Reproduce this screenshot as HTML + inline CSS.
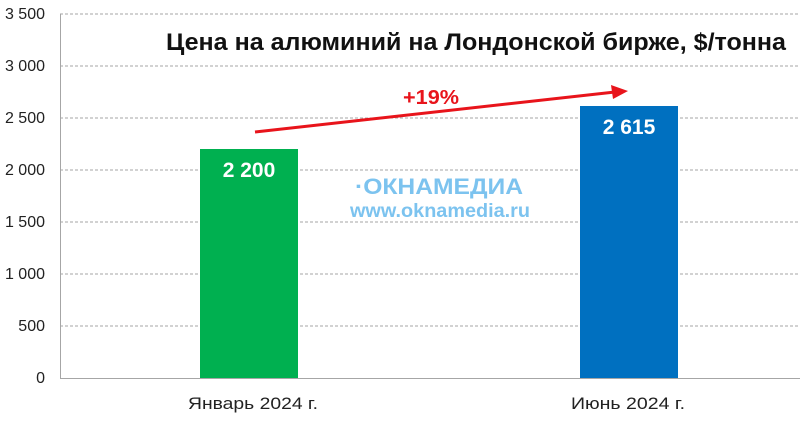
<!DOCTYPE html>
<html><head><meta charset="utf-8"><style>
html,body{margin:0;padding:0;background:#fff;}
svg{display:block;font-family:"Liberation Sans",Arial,sans-serif;}
</style></head><body>
<svg width="800" height="421" viewBox="0 0 800 421" xmlns="http://www.w3.org/2000/svg">
<g stroke="#a6a6a6" stroke-width="1" stroke-dasharray="3,2">
<line x1="60" y1="14" x2="800" y2="14"/>
<line x1="60" y1="66" x2="800" y2="66"/>
<line x1="60" y1="118" x2="800" y2="118"/>
<line x1="60" y1="170" x2="800" y2="170"/>
<line x1="60" y1="222" x2="800" y2="222"/>
<line x1="60" y1="274" x2="800" y2="274"/>
<line x1="60" y1="326" x2="800" y2="326"/>
</g>
<line x1="60.5" y1="14" x2="60.5" y2="378" stroke="#a6a6a6"/>
<line x1="60" y1="378.5" x2="800" y2="378.5" stroke="#a6a6a6"/>
<g font-size="16" fill="#222" text-anchor="end">
<text x="45" y="19">3 500</text>
<text x="45" y="71">3 000</text>
<text x="45" y="123">2 500</text>
<text x="45" y="175">2 000</text>
<text x="45" y="227">1 500</text>
<text x="45" y="279">1 000</text>
<text x="45" y="331">500</text>
<text x="45" y="383">0</text>
</g>
<rect x="200" y="149" width="98" height="229" fill="#00b050"/>
<rect x="580" y="106" width="98" height="272" fill="#0070c0"/>
<text x="249" y="177" font-size="21" font-weight="bold" fill="#fff" text-anchor="middle">2 200</text>
<text x="629" y="134" font-size="21" font-weight="bold" fill="#fff" text-anchor="middle">2 615</text>
<g font-size="17" fill="#222">
<text x="188" y="409" textLength="130" lengthAdjust="spacingAndGlyphs">Январь 2024 г.</text>
<text x="571" y="409" textLength="114" lengthAdjust="spacingAndGlyphs">Июнь 2024 г.</text>
</g>
<text x="166" y="50" font-size="24" font-weight="bold" fill="#111" textLength="620" lengthAdjust="spacingAndGlyphs">Цена на алюминий на Лондонской бирже, $/тонна</text>
<line x1="255" y1="132" x2="615" y2="92" stroke="#e8141b" stroke-width="3"/>
<polygon points="628,91 611,85 613,99" fill="#e8141b"/>
<text x="403" y="104" font-size="20" font-weight="bold" fill="#e8141b" textLength="56" lengthAdjust="spacingAndGlyphs">+19%</text>
<text x="355" y="194" font-size="22" font-weight="bold" fill="#7cc3ef" textLength="168" lengthAdjust="spacingAndGlyphs">·ОКНАМЕДИА</text>
<text x="350" y="217" font-size="19" font-weight="bold" fill="#7cc3ef" textLength="180" lengthAdjust="spacingAndGlyphs">www.oknamedia.ru</text>
</svg>
</body></html>
